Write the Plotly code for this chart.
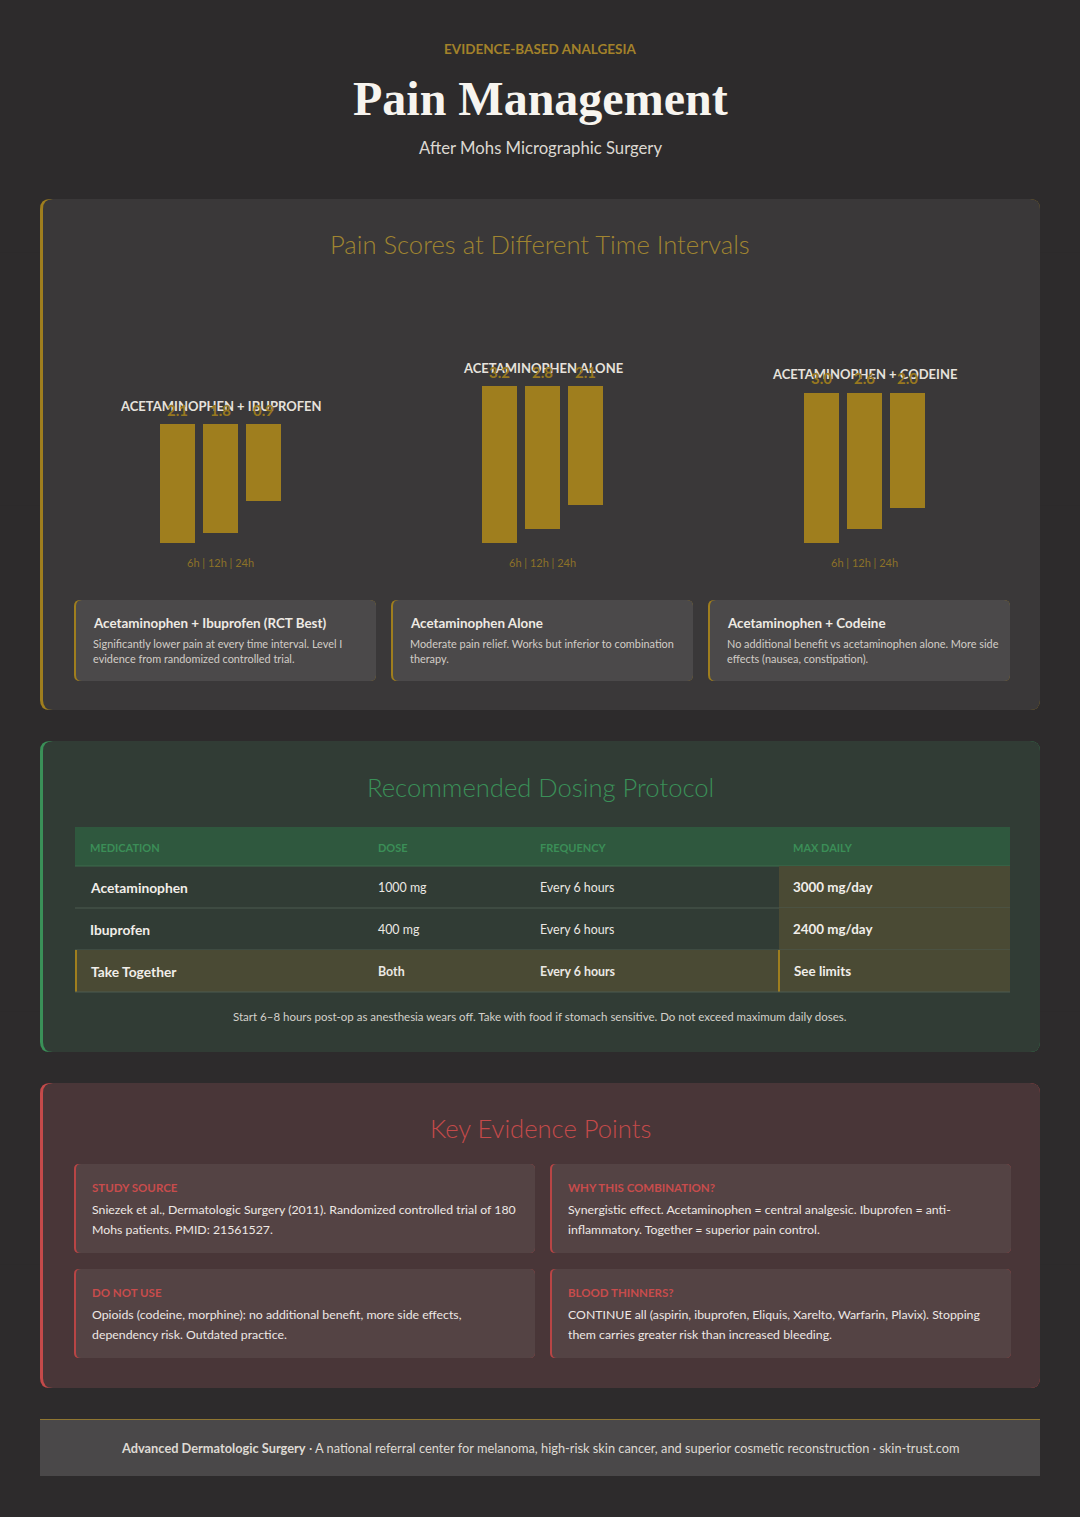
import plotly.graph_objects as go

W, H = 1080, 1517

# ---- data ----
groups = ["Acetaminophen + Ibuprofen", "Acetaminophen Alone", "Acetaminophen + Codeine"]
times = ["6h", "12h", "24h"]
ibuprofen_combo = [2.1, 1.8, 0.9]
acetaminophen_alone = [3.2, 2.8, 2.1]
codeine_combo = [3.0, 2.6, 2.0]

card_titles = ["Acetaminophen + Ibuprofen (RCT Best)", "Acetaminophen Alone", "Acetaminophen + Codeine"]
card_lines = [
    ["Significantly lower pain at every time interval. Level I", "evidence from randomized controlled trial."],
    ["Moderate pain relief. Works but inferior to combination", "therapy."],
    ["No additional benefit vs acetaminophen alone. More side", "effects (nausea, constipation)."],
]

table_header = ["MEDICATION", "DOSE", "FREQUENCY", "MAX DAILY"]
medications = ["Acetaminophen", "Ibuprofen", "Take Together"]
doses = ["1000 mg", "400 mg", "Both"]
frequencies = ["Every 6 hours", "Every 6 hours", "Every 6 hours"]
max_daily = ["3000 mg/day", "2400 mg/day", "See limits"]
dosing_note = "Start 6–8 hours post-op as anesthesia wears off. Take with food if stomach sensitive. Do not exceed maximum daily doses."

evidence_labels = ["STUDY SOURCE", "WHY THIS COMBINATION?", "DO NOT USE", "BLOOD THINNERS?"]
evidence_lines = [
    ["Sniezek et al., Dermatologic Surgery (2011). Randomized controlled trial of 180", "Mohs patients. PMID: 21561527."],
    ["Synergistic effect. Acetaminophen = central analgesic. Ibuprofen = anti-", "inflammatory. Together = superior pain control."],
    ["Opioids (codeine, morphine): no additional benefit, more side effects,", "dependency risk. Outdated practice."],
    ["CONTINUE all (aspirin, ibuprofen, Eliquis, Xarelto, Warfarin, Plavix). Stopping", "them carries greater risk than increased bleeding."],
]

# ---- style ----
BODY = "Lato, sans-serif"
SERIF = "Liberation Serif, serif"
GOLD = "#9f7e1e"
GREEN = "#3a9058"
RED = "#c44a4a"


def X(px):
    return px / W


def Y(py):
    return 1 - py / H


def rr_path(x0, y0, x1, y1, r):
    return (f"M {X(x0+r)},{Y(y0)} L {X(x1-r)},{Y(y0)} Q {X(x1)},{Y(y0)} {X(x1)},{Y(y0+r)} "
            f"L {X(x1)},{Y(y1-r)} Q {X(x1)},{Y(y1)} {X(x1-r)},{Y(y1)} "
            f"L {X(x0+r)},{Y(y1)} Q {X(x0)},{Y(y1)} {X(x0)},{Y(y1-r)} "
            f"L {X(x0)},{Y(y0+r)} Q {X(x0)},{Y(y0)} {X(x0+r)},{Y(y0)} Z")


shapes = []
annotations = []


def rbox(x0, y0, x1, y1, r, fill):
    shapes.append(dict(type="path", xref="paper", yref="paper", path=rr_path(x0, y0, x1, y1, r),
                       fillcolor=fill, line=dict(width=0), layer="below"))


def rect(x0, y0, x1, y1, fill):
    shapes.append(dict(type="rect", xref="paper", yref="paper", x0=X(x0), x1=X(x1), y0=Y(y0), y1=Y(y1),
                       fillcolor=fill, line=dict(width=0), layer="below"))


def hline(x0, x1, y, color, w=1):
    shapes.append(dict(type="line", xref="paper", yref="paper", x0=X(x0), x1=X(x1), y0=Y(y), y1=Y(y),
                       line=dict(color=color, width=w), layer="below"))


def txt(x, y, text, size, color, family=BODY, weight="normal", anchor="left"):
    annotations.append(dict(x=X(x), y=Y(y), xref="paper", yref="paper", text=text, showarrow=False,
                            xanchor=anchor, yanchor="middle",
                            font=dict(size=size, color=color, family=family, weight=weight)))


# soft background gradient (darker top, lighter bottom)
rect(0, 0, W, H, "#2d2b2c")
for k in range(6):
    shapes.append(dict(type="rect", xref="paper", yref="paper", x0=0, x1=1, y0=0, y1=1 - k / 6,
                       fillcolor="rgba(70,66,68,0.035)", line=dict(width=0), layer="below"))

# ---- header ----
txt(540, 49, "EVIDENCE-BASED ANALGESIA", 13.5, "#a3822a", weight="bold", anchor="center")
txt(540, 99, "Pain Management", 48, "#f7f4ef", family=SERIF, weight="bold", anchor="center")
txt(540, 148, "After Mohs Micrographic Surgery", 16.7, "#dcd8d2", anchor="center")

# ---- panel 1: pain scores ----
rbox(40, 199, 1040, 710, 10, GOLD)
rbox(43, 199, 1040, 710, 10, "#3a3839")
txt(540, 244, "Pain Scores at Different Time Intervals", 25.6, "#a08530", weight=300, anchor="center")

series = [ibuprofen_combo, acetaminophen_alone, codeine_combo]
centers = [220.5, 542.5, 864.5]
K, STUB = 35, 1.3       # px per score unit, minimum bar stub (score units) as in the reference
BOTTOM = 543
fig = go.Figure()
layout_axes = {}
for i, (vals, cx) in enumerate(zip(series, centers)):
    n = "" if i == 0 else str(i + 1)
    top = BOTTOM - K * (max(vals) + STUB)
    # constant stub, then the score stacked on it; bars hang from the group top
    fig.add_trace(go.Bar(x=times, y=[STUB] * len(times), marker=dict(color=GOLD, line=dict(width=0)),
                         xaxis="x" + n, yaxis="y" + n, hoverinfo="skip", showlegend=False))
    fig.add_trace(go.Bar(x=times, y=vals, marker=dict(color=GOLD, line=dict(width=0)),
                         xaxis="x" + n, yaxis="y" + n, name=groups[i], showlegend=False))
    layout_axes["xaxis" + n] = dict(domain=[X(cx - 64.5), X(cx + 64.5)], range=[-0.5, 2.5],
                                    visible=False, anchor="y" + n, fixedrange=True)
    layout_axes["yaxis" + n] = dict(domain=[Y(BOTTOM), Y(top)], range=[max(vals) + STUB, 0],
                                    visible=False, anchor="x" + n, fixedrange=True)
    txt(cx, top - 18, groups[i].upper(), 13, "#e6e2dc", weight="bold", anchor="center")
    for t, v in zip(times, vals):
        annotations.append(dict(x=t, y=0, xref="x" + n, yref="y" + n, text=f"{v:.1f}", showarrow=False,
                                xanchor="center", yanchor="middle", yshift=14,
                                font=dict(size=15, color="#98781f", family=BODY, weight="bold")))
    txt(cx, 563, " | ".join(times), 11, "#8c7128", anchor="center")

card_x = [74, 391, 708]
for cx0, title, lines in zip(card_x, card_titles, card_lines):
    rbox(cx0, 600, cx0 + 302, 681, 6, GOLD)
    rbox(cx0 + 2, 600, cx0 + 302, 681, 6, "#4b494a")
    txt(cx0 + 17, 623, title, 13.4, "#eeeae4", weight="bold")
    for j, line in enumerate(lines):
        txt(cx0 + 17, 643 + 15 * j, line, 10.9, "#d2cdc7")

# ---- panel 2: dosing table ----
rbox(40, 741, 1040, 1052, 10, GREEN)
rbox(43, 741, 1040, 1052, 10, "#313c35")
txt(540, 787, "Recommended Dosing Protocol", 25.6, GREEN, weight=300, anchor="center")

col_x = [88, 376, 538, 791]
rect(75, 827, 1010, 866, "#2f583e")
for x, h in zip(col_x, table_header):
    txt(x, 847, h, 11, "#3b8e57", weight="bold")
hline(75, 1010, 866, "#3f6a4c")
row_y = [887, 929, 971]
for r, yc in enumerate(row_y):
    last = r == len(row_y) - 1
    if last:
        rect(75, yc - 21, 1010, yc + 21, "#4a4a34")
        rect(75, yc - 21, 77, yc + 21, GOLD)
        rect(778, yc - 21, 780, yc + 21, GOLD)
    else:
        rect(779, yc - 21, 1010, yc + 21, "#4a4a34")
    hline(75, 1010, yc + 21, "#4c5a50")
    shift = 1 if last else 0
    txt(col_x[0] + shift, yc, medications[r], 13.8, "#f1eee9", weight="bold")
    txt(col_x[1], yc, doses[r], 12.4, "#ebe8e3", weight="bold" if last else "normal")
    txt(col_x[2], yc, frequencies[r], 12.4, "#ebe8e3", weight="bold" if last else "normal")
    txt(col_x[3] + shift, yc, max_daily[r], 13.4, "#f1eee9", weight="bold")
txt(540, 1016, dosing_note, 11.5, "#d4d1cb", anchor="center")

# ---- panel 3: key evidence ----
rbox(40, 1083, 1040, 1388, 10, RED)
rbox(43, 1083, 1040, 1388, 10, "#493638")
txt(540, 1128, "Key Evidence Points", 25.6, RED, weight=300, anchor="center")
ev_pos = [(74, 1164), (550, 1164), (74, 1269), (550, 1269)]
for (ex, ey), label, lines in zip(ev_pos, evidence_labels, evidence_lines):
    rbox(ex, ey, ex + 461, ey + 89, 5, "#b84545")
    rbox(ex + 2, ey, ex + 461, ey + 89, 5, "#544344")
    txt(ex + 16, ey + 23, label, 11.5, "#c84c4c", weight="bold")
    for j, line in enumerate(lines):
        txt(ex + 16, ey + 45 + 20 * j, line, 12.3, "#eee8e4")

# ---- footer ----
rect(40, 1419, 1040, 1476, "#4a4849")
hline(40, 1040, 1419.5, "#8f7631", 1.2)
txt(540, 1448, "<b>Advanced Dermatologic Surgery</b> · A national referral center for melanoma, "
    "high-risk skin cancer, and superior cosmetic reconstruction · skin-trust.com", 12.8, "#dedad4", anchor="center")

fig.update_layout(
    width=W, height=H,
    margin=dict(l=0, r=0, t=0, b=0),
    paper_bgcolor="#312f30", plot_bgcolor="rgba(0,0,0,0)",
    barmode="stack", bargap=8 / 43,
    shapes=shapes, annotations=annotations,
    **layout_axes,
)

fig.write_html("out.html", config={"displayModeBar": False},
               post_script="document.body.style.margin='0';")
